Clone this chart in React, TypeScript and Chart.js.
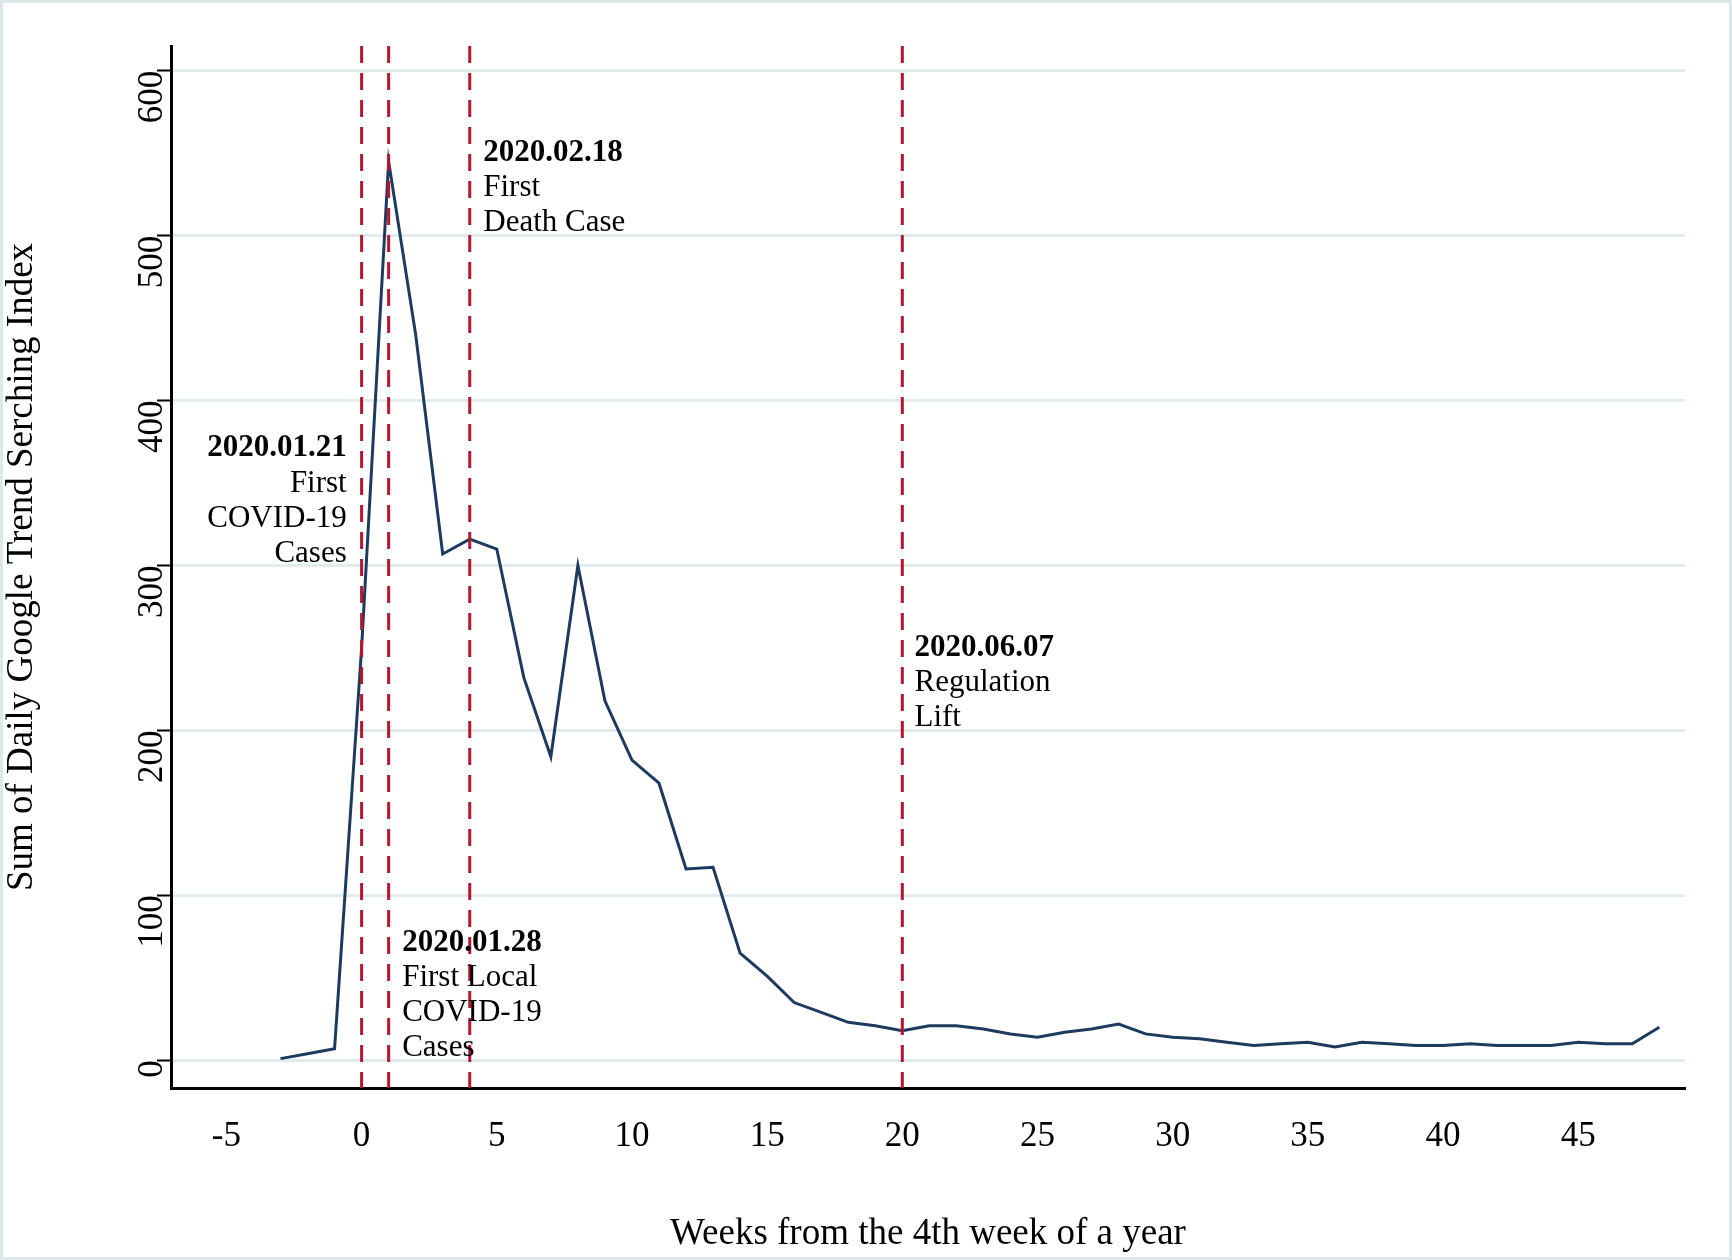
import React, { useEffect, useRef } from 'react';
import Chart from 'chart.js/auto';

const weeks = [-3, -2, -1, 0, 1, 2, 3, 4, 5, 6, 7, 8, 9, 10, 11, 12, 13, 14, 15, 16, 17, 18, 19, 20, 21, 22, 23, 24, 25, 26, 27, 28, 29, 30, 31, 32, 33, 34, 35, 36, 37, 38, 39, 40, 41, 42, 43, 44, 45, 46, 47, 48];
const searchIndex = [1, 4, 7, 250, 545, 440, 307, 316, 310, 232, 184, 300, 218, 182, 168, 116, 117, 65, 51, 35, 29, 23, 21, 18, 21, 21, 19, 16, 14, 17, 19, 22, 16, 14, 13, 11, 9, 10, 11, 8, 11, 10, 9, 9, 10, 9, 9, 9, 11, 10, 10, 20];
const eventWeeks = [0, 1, 4, 20];
const annotations = [
  { x: -0.55, y: 371, align: 'right', lines: ['2020.01.21', 'First', 'COVID-19', 'Cases'] },
  { x: 1.5, y: 71, align: 'left', lines: ['2020.01.28', 'First Local', 'COVID-19', 'Cases'] },
  { x: 4.5, y: 550, align: 'left', lines: ['2020.02.18', 'First', 'Death Case'] },
  { x: 20.45, y: 250, align: 'left', lines: ['2020.06.07', 'Regulation', 'Lift'] },
];

const SERIF = '"Liberation Serif", "Times New Roman", serif';

const eventPlugin = {
  id: 'events',
  afterDatasetsDraw(chart: any) {
    const { ctx, chartArea, scales } = chart;
    const xs = scales.x, ys = scales.y;
    ctx.save();
    ctx.strokeStyle = '#b5172f';
    ctx.lineWidth = 3;
    ctx.setLineDash([17, 10]);
    eventWeeks.forEach((w) => {
      const px = xs.getPixelForValue(w);
      ctx.beginPath();
      ctx.moveTo(px, chartArea.top);
      ctx.lineTo(px, chartArea.bottom);
      ctx.stroke();
    });
    ctx.setLineDash([]);
    ctx.fillStyle = '#000';
    ctx.textBaseline = 'middle';
    annotations.forEach((a) => {
      const px = xs.getPixelForValue(a.x);
      const py = ys.getPixelForValue(a.y);
      ctx.textAlign = a.align;
      a.lines.forEach((t, i) => {
        ctx.font = (i === 0 ? 'bold ' : '') + '31px ' + SERIF;
        ctx.fillText(t, px, py + i * 35);
      });
    });
    ctx.restore();
  },
};

const frame = {
  id: 'frame',
  beforeDraw(chart: any) {
    const { ctx, width, height } = chart;
    ctx.save();
    ctx.fillStyle = '#fff';
    ctx.fillRect(0, 0, width, height);
    ctx.strokeStyle = '#dde8ea';
    ctx.lineWidth = 3;
    ctx.strokeRect(1.5, 1.5, width - 3, height - 3);
    ctx.restore();
  },
};

export default function App() {
  const canvasRef = useRef<HTMLCanvasElement>(null);

  useEffect(() => {
    document.body.style.margin = '0';
    const ctx = canvasRef.current?.getContext('2d');
    if (!ctx) return;
    const chart = new Chart(ctx, {
      type: 'line',
      data: {
        datasets: [
          {
            data: weeks.map((w, i) => ({ x: w, y: searchIndex[i] })),
            borderColor: '#1f3a5f',
            borderWidth: 3,
            pointRadius: 0,
            tension: 0,
          },
        ],
      },
      options: {
        animation: false,
        responsive: false,
        layout: { padding: { top: 46, right: 47, left: 0, bottom: 0 } },
        plugins: { legend: { display: false }, tooltip: { enabled: false } },
        scales: {
          x: {
            type: 'linear',
            min: -7.05,
            max: 48.95,
            afterBuildTicks: (s: any) => {
              s.ticks = [-5, 0, 5, 10, 15, 20, 25, 30, 35, 40, 45].map((v) => ({ value: v }));
            },
            afterFit: (s: any) => { s.height = 172; },
            grid: { display: false, drawOnChartArea: false, tickLength: 0 },
            border: { display: true, color: '#000', width: 3 },
            ticks: { color: '#000', font: { family: SERIF, size: 35 }, padding: 28, maxRotation: 0 },
            title: { display: true, text: 'Weeks from the 4th week of a year', color: '#000', font: { family: SERIF, size: 37 }, padding: { top: 0 } },
          },
          y: {
            min: -16.8,
            max: 615,
            afterBuildTicks: (s: any) => {
              s.ticks = [0, 100, 200, 300, 400, 500, 600].map((v) => ({ value: v }));
            },
            afterFit: (s: any) => { s.width = 171; },
            grid: { color: '#e2ebed', lineWidth: 3, tickLength: 14, tickColor: '#000', tickWidth: 2 },
            border: { display: true, color: '#000', width: 3 },
            ticks: { color: '#000', font: { family: SERIF, size: 35 }, minRotation: 90, maxRotation: 90, padding: 4 },
            title: { display: true, text: 'Sum of Daily Google Trend Serching Index', color: '#000', font: { family: SERIF, size: 37 }, padding: 0 },
          },
        },
      },
      plugins: [frame, eventPlugin],
    });
    return () => chart.destroy();
  }, []);

  return (
    <div style={{ width: 1732, height: 1260 }}>
      <canvas ref={canvasRef} width={1732} height={1260} />
    </div>
  );
}
